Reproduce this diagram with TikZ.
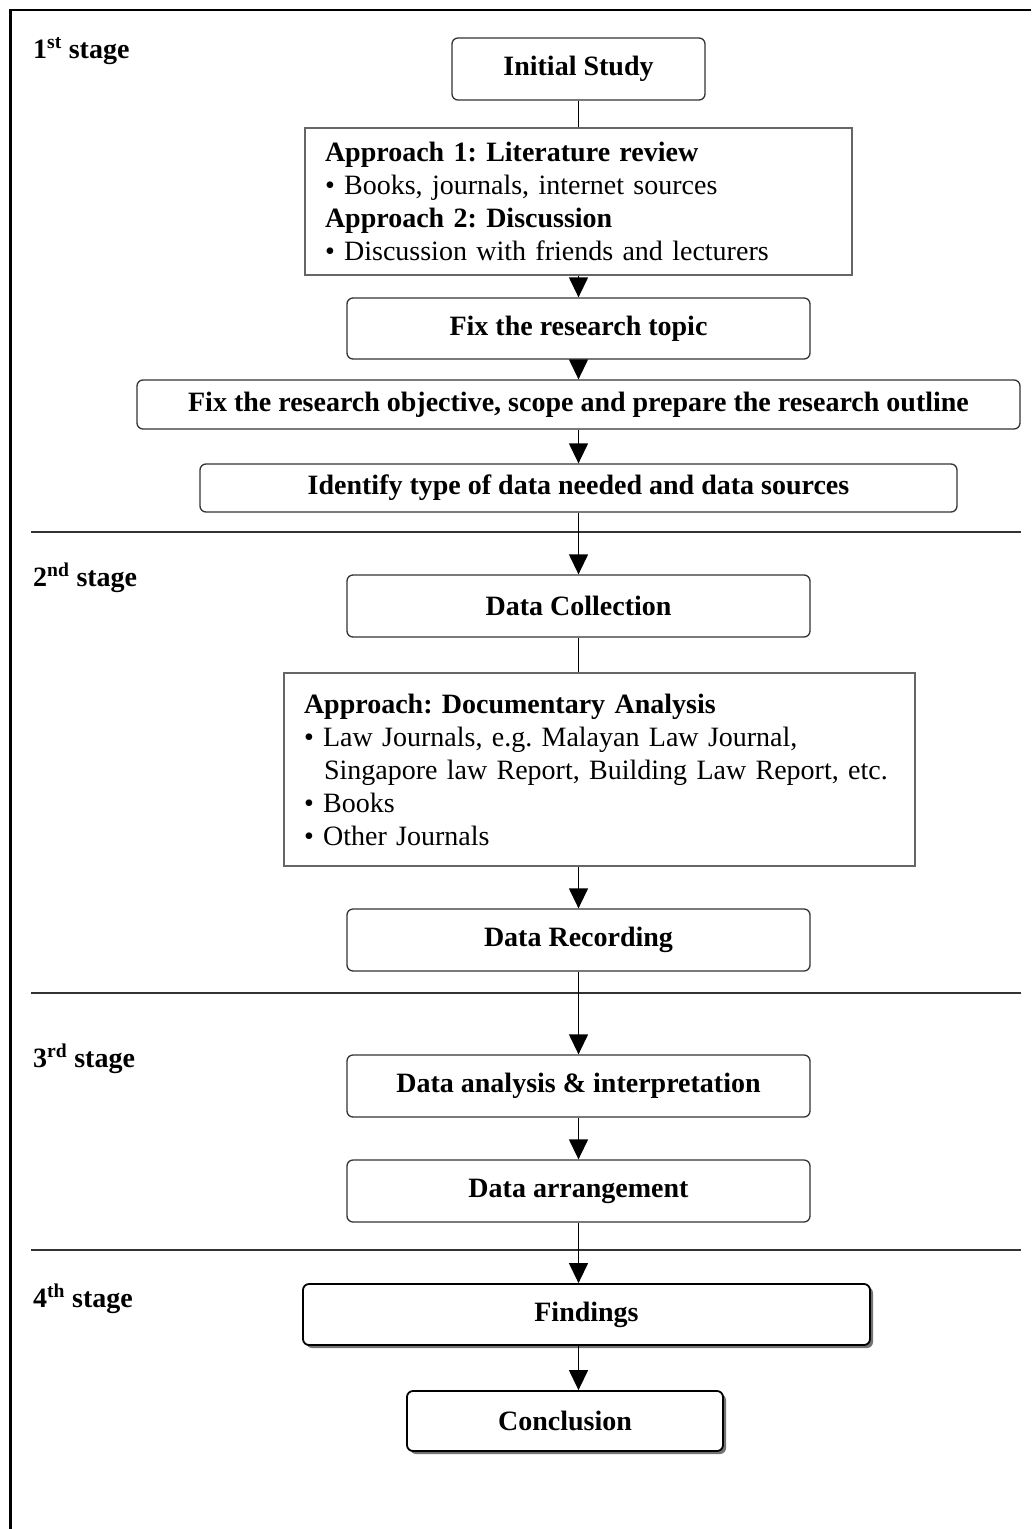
\documentclass[tikz,border=0pt]{standalone}
\usepackage{fontspec}
\setmainfont{Liberation Serif}
\usetikzlibrary{arrows.meta,shadows}
\newcommand\bigfnt{\fontsize{28}{33}\selectfont\frenchspacing}
\begin{document}
\begin{tikzpicture}[x=1pt,y=-1pt,
 rbox/.style={draw=black!80,line width=1.3pt,rounded corners=6pt,font=\bigfnt\bfseries,inner sep=0pt},
 sbox/.style={draw=black!60,line width=1.3pt,align=left,inner sep=0pt,font=\bigfnt},
 shbox/.style={rbox,draw=black,line width=1.8pt,fill=white,drop shadow={shadow xshift=3pt,shadow yshift=-3pt,fill=black!55,opacity=1}},
 arr/.style={line width=1.3pt,-{Triangle[width=19pt,length=20pt]}},
 ln/.style={line width=1.3pt},
 divider/.style={line width=1.6pt,draw=black!80},
 stagelbl/.style={font=\bigfnt\bfseries,anchor=base west,inner sep=0pt}]
\useasboundingbox (0,0) rectangle (1031,1529);
% frame
\draw[line width=2.2pt] (10.5,1529) -- (10.5,10) -- (1031,10);
% dividers
\draw[divider] (31,532) -- (1021,532);
\draw[divider] (31,993) -- (1021,993);
\draw[divider] (31,1250) -- (1021,1250);
% stage labels
\node[stagelbl] (s1) at (33,58) {1\textsuperscript{st} stage};
\node[stagelbl] (s2) at (33,586) {2\textsuperscript{nd} stage};
\node[stagelbl] (s3) at (33,1067) {3\textsuperscript{rd} stage};
\node[stagelbl] (s4) at (33,1307) {4\textsuperscript{th} stage};
% boxes
\node[rbox,minimum width=253pt,minimum height=62pt] (init) at (578.5,69) {Initial Study};
\node[sbox,minimum width=547pt,minimum height=147pt,text width=507pt] (app1) at (578.5,201.5)
 {\textbf{Approach 1: Literature review}\\
  \textbullet\ Books, journals, internet sources\\
  \textbf{Approach 2: Discussion}\\
  \textbullet\ Discussion with friends and lecturers};
\node[rbox,minimum width=463pt,minimum height=61pt] (topic) at (578.5,328.5) {Fix the research topic};
\node[rbox,minimum width=883pt,minimum height=49pt] (obj) at (578.5,404.5) {Fix the research objective, scope and prepare the research outline};
\node[rbox,minimum width=757pt,minimum height=48pt] (ident) at (578.5,488) {Identify type of data needed and data sources};
\node[rbox,minimum width=463pt,minimum height=62pt] (coll) at (578.5,606) {Data Collection};
\node[sbox,minimum width=631pt,minimum height=193pt,text width=591pt] (doc) at (599.5,769.5)
 {\textbf{Approach: Documentary Analysis}\\[0pt]
  \textbullet\ Law Journals, e.g. Malayan Law Journal,\\
  \hspace*{20pt}Singapore law Report, Building Law Report, etc.\\
  \textbullet\ Books\\
  \textbullet\ Other Journals\\[6pt]};
\node[rbox,minimum width=463pt,minimum height=62pt] (rec) at (578.5,940) {Data Recording};
\node[rbox,minimum width=463pt,minimum height=62pt] (anal) at (578.5,1086) {Data analysis \& interpretation};
\node[rbox,minimum width=463pt,minimum height=62pt] (arrg) at (578.5,1191) {Data arrangement};
\node[shbox,minimum width=567pt,minimum height=61pt] (find) at (586.5,1314.5) {Findings};
\node[shbox,minimum width=316pt,minimum height=60pt] (concl) at (565,1421) {Conclusion};
% connectors
\draw[ln] (init.south) -- (app1.north);
\draw[arr] (app1.south) -- (topic.north);
\draw[arr] (topic.south) -- (obj.north);
\draw[arr] (obj.south) -- (ident.north);
\draw[arr] (ident.south) -- (coll.north);
\draw[ln] (coll.south) -- (coll.south |- doc.north);
\draw[arr] (coll.south |- doc.south) -- (rec.north);
\draw[arr] (rec.south) -- (anal.north);
\draw[arr] (anal.south) -- (arrg.north);
\draw[arr] (arrg.south) -- (arrg.south |- find.north);
\draw[arr] (arrg.south |- find.south) -- (arrg.south |- concl.north);
\end{tikzpicture}
\end{document}
